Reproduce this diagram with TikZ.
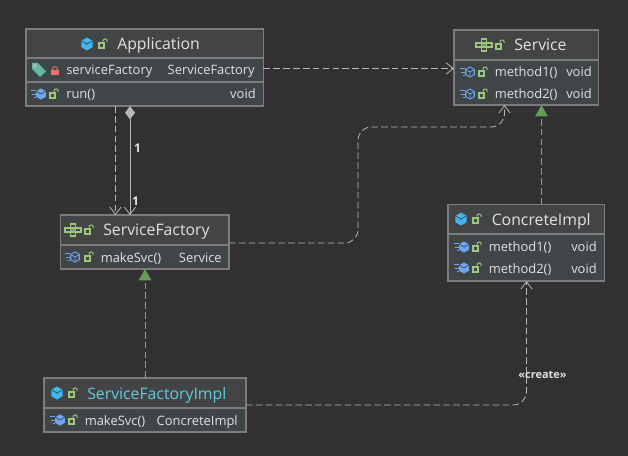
\documentclass[tikz,border=0pt]{standalone}
\usepackage{fontspec}
\setmainfont{Open Sans}
\usetikzlibrary{arrows.meta,calc}
\definecolor{bgc}{HTML}{323033}
\definecolor{headc}{HTML}{434445}
\definecolor{rowc}{HTML}{404548}
\definecolor{edgec}{HTML}{7C7C7C}
\definecolor{linec}{HTML}{B8B8B8}
\definecolor{txtc}{HTML}{E2E2E2}
\definecolor{cyanc}{HTML}{62CBDD}
\definecolor{blueic}{HTML}{3FB6F0}
\definecolor{methic}{HTML}{6FA4EE}
\definecolor{lockg}{HTML}{9CC77C}
\definecolor{lockr}{HTML}{EE6F6F}
\definecolor{tagc}{HTML}{62B8A5}
\definecolor{greenar}{HTML}{649A5A}
\definecolor{greenl}{HTML}{8A9E84}
\tikzset{
  x=0.75pt,y=-0.75pt,
  part/.style={draw=edgec,line width=0.9pt,inner sep=0pt,outer sep=0pt,anchor=north west},
  head/.style={part,fill=headc},
  row/.style={part,fill=rowc},
  title/.style={text=txtc,font=\fontsize{11.85}{13}\selectfont,inner sep=0pt,anchor=base west},
  item/.style={text=txtc,font=\fontsize{9.7}{11}\selectfont,inner sep=0pt,anchor=base west},
  itemr/.style={item,anchor=base east},
  conn/.style={linec,line width=0.6pt},
  dep/.style={conn,dash pattern=on 5pt off 2.4pt,-{Straight Barb[length=5.5pt,width=8.5pt,line width=0.6pt]}},
  impl/.style={conn,greenl,dash pattern=on 5pt off 2.4pt,-{Triangle[length=8.5pt,width=9.5pt,fill=greenar,color=greenar]}},
  pics/cls/.style={code={
    \fill[blueic] (0,-6.5)--(5.6,-3.2)--(5.6,3.2)--(0,6.5)--(-5.6,3.2)--(-5.6,-3.2)--cycle;
    \draw[headc,line width=0.5pt] (-5.6,-3.2)--(0,0)--(5.6,-3.2) (0,0)--(0,1);
  }},
  pics/lockopen/.style={code={
    \fill[lockg] (-5,-2.3) rectangle (2,5);
    \fill[headc] (-2.6,0.3) rectangle (-0.4,2.6);
    \draw[lockg,line width=0.75pt] (0,-2.3)--(0,-3) arc[start angle=180,end angle=360,radius=2.1] -- (4.2,-2);
  }},
  pics/lockred/.style={code={
    \fill[lockr] (-4,-1) rectangle (4,4.5);
    \draw[lockr,line width=0.75pt] (-2.4,-1)--(-2.4,-2) arc[start angle=180,end angle=360,radius=2.4] -- (2.4,-1);
  }},
  pics/tag/.style={code={
    \fill[tagc] (-7,-7)--(-1,-7)--(7,1.5)--(1,7)--(-7,-1)--cycle;
    \fill[rowc!40!white] (-4,-4) circle (2);
  }},
  pics/meth/.style args={#1/#2}{code={
    \draw[#1,line width=0.6pt] (-10.5,-3.5)--(-5,-3.5) (-9,0)--(-5,0) (-7.5,3.5)--(-5,3.5);
    \fill[#1] (0,-5.6)--(4.9,-2.8)--(4.9,2.8)--(0,5.6)--(-4.9,2.8)--(-4.9,-2.8)--cycle;
    \if#2o
      \fill[rowc] (0,-4.3)--(3.7,-2.2)--(3.7,2.2)--(0,4.3)--(-3.7,2.2)--(-3.7,-2.2)--cycle;
      \draw[#1,line width=0.6pt] (-3.7,-2.2)--(0,0)--(3.7,-2.2) (0,0)--(0,4);
    \else
      \draw[rowc,line width=0.5pt] (-4.9,-2.8)--(0,0)--(4.9,-2.8);
    \fi
  }},
  pics/iface/.style={code={
    \fill[lockg!60!headc] (-2.7,-2) rectangle (2.7,2);
    \draw[lockg,line width=0.8pt] (-2.7,-6) rectangle (2.7,-2) (-8,-2) rectangle (8,2) (-2.7,-2) rectangle (2.7,2) (-2.7,2) rectangle (2.7,6);
  }},
}
\begin{document}
\begin{tikzpicture}
\useasboundingbox[fill=bgc] (0,0) rectangle (628,456);

% Application
\node[head,minimum width=178.1pt,minimum height=21.8pt] (appH) at (26,29) {};
\node[row,minimum width=178.1pt,minimum height=18pt] (appA) at (26,58) {};
\node[row,minimum width=178.1pt,minimum height=18pt] (appB) at (26,82) {};
\pic at (87,44) {cls};
\pic at (103,44) {lockopen};
\node[title] (appT) at (117,49.5) {Application};
\pic at (39,70) {tag};
\pic at (55,71) {lockred};
\node[item] (appA1) at (66,75) {serviceFactory};
\node[itemr] (appA2) at (255,75) {ServiceFactory};
\pic at (41,94) {meth={methic/f}};
\pic at (54,94) {lockopen};
\node[item] (appB1) at (66,98.5) {run()};
\node[itemr] (appB2) at (256,98.5) {void};

% Service
\node[head,minimum width=108.4pt,minimum height=22.5pt] (svcH) at (454,30) {};
\node[row,minimum width=108.4pt,minimum height=33.8pt] (svcR) at (454,60) {};
\pic at (484,45) {iface};
\pic at (500,45) {lockopen};
\node[title] (svcT) at (514,50.5) {Service};
\pic at (470,72) {meth={methic/o}};
\pic at (483,72) {lockopen};
\node[item] (svcM1) at (494.5,77) {method1()};
\node[itemr] (svcV1) at (592,77) {void};
\pic at (470,94) {meth={methic/o}};
\pic at (483,94) {lockopen};
\node[item] (svcM2) at (494.5,99) {method2()};
\node[itemr] (svcV2) at (592,99) {void};

% ServiceFactory
\node[head,minimum width=126.4pt,minimum height=22.5pt] (sfH) at (60.5,215) {};
\node[row,minimum width=126.4pt,minimum height=18pt] (sfR) at (60.5,245) {};
\pic at (73,230) {iface};
\pic at (89,230) {lockopen};
\node[title] (sfT) at (103,235.5) {ServiceFactory};
\pic at (75,257) {meth={methic/o}};
\pic at (89,257) {lockopen};
\node[item] (sfM) at (100.5,262) {makeSvc()};
\node[itemr] (sfV) at (222,262) {Service};

% ConcreteImpl
\node[head,minimum width=117.4pt,minimum height=22.1pt] (ciH) at (448,204.5) {};
\node[row,minimum width=117.4pt,minimum height=35.3pt] (ciR) at (448,234) {};
\pic at (461,219) {cls};
\pic at (477,219) {lockopen};
\node[title] (ciT) at (491.5,225) {ConcreteImpl};
\pic at (464,247) {meth={methic/f}};
\pic at (477,247) {lockopen};
\node[item] (ciM1) at (488.5,251) {method1()};
\node[itemr] (ciV1) at (597,251) {void};
\pic at (464,268) {meth={methic/f}};
\pic at (477,268) {lockopen};
\node[item] (ciM2) at (488.5,273) {method2()};
\node[itemr] (ciV2) at (597,273) {void};

% ServiceFactoryImpl
\node[head,minimum width=151.5pt,minimum height=22.5pt] (fiH) at (44,378) {};
\node[row,minimum width=151.5pt,minimum height=18pt] (fiR) at (44,408) {};
\pic at (57,393) {cls};
\pic at (73,393) {lockopen};
\node[title,text=cyanc] (fiT) at (87,399) {ServiceFactoryImpl};
\pic at (60,420) {meth={methic/f}};
\pic at (73,420) {lockopen};
\node[item] (fiM) at (84.5,425) {makeSvc()};
\node[itemr] (fiV) at (238,425) {ConcreteImpl};

% connector ends
\coordinate (a1) at (appA.east |- 0,68.5);
\coordinate (s1) at (svcR.west |- 0,68.5);
\coordinate (a2) at (115.5,0 |- appB.south);
\coordinate (f2) at (115.5,0 |- sfH.north);
\coordinate (a3) at (130,0 |- appB.south);
\coordinate (f3) at (130,0 |- sfH.north);
\coordinate (f4) at (sfH.east |- 0,243);
\coordinate (s4) at (504.5,0 |- svcR.south);
\coordinate (c5) at (541.5,0 |- ciH.north);
\coordinate (s5) at (541.5,0 |- svcR.south);
\coordinate (i6) at (145,0 |- fiH.north);
\coordinate (f6) at (145,0 |- sfR.south);
\coordinate (i7) at (fiH.east |- 0,405);
\coordinate (c7) at (526.5,0 |- ciR.south);

\draw[dep] (a1) -- (s1);
\draw[dep] (a2) -- (f2);
\draw[conn,{Diamond[length=10pt,width=7.5pt,fill=linec,color=linec]}-{Straight Barb[length=5.5pt,width=8.5pt,line width=0.6pt]}] (a3) -- (f3);
\draw[dep,rounded corners=10pt] (f4) -- (358,243) -- (358,127) -- (504.5,127) -- (s4);
\draw[impl] (c5) -- (s5);
\draw[impl] (i6) -- (f6);
\draw[dep,rounded corners=10pt] (i7) -- (526.5,405) -- (c7);

\node[text=txtc,font=\bfseries\fontsize{9}{10}\selectfont,inner sep=0pt] (m1) at (137.5,148) {1};
\node[text=txtc,font=\bfseries\fontsize{9}{10}\selectfont,inner sep=0pt] (m2) at (135.5,201) {1};
\node[text=txtc,font=\bfseries\fontsize{8.2}{9}\selectfont,inner sep=0pt] (cr) at (542.5,375) {«create»};
\end{tikzpicture}
\end{document}
